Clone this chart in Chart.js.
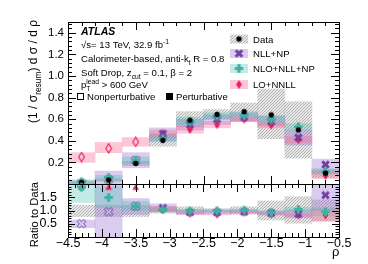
<!DOCTYPE html>
<html><head><meta charset="utf-8">
<script src="https://cdn.jsdelivr.net/npm/chart.js@4/dist/chart.umd.min.js"></script>
<style>html,body{margin:0;padding:0;background:#fff;}#wrap{position:relative;width:368px;height:264px;}canvas{position:absolute;left:0;top:0;}</style>
</head><body><div id="wrap"><canvas id="main" width="368" height="264"></canvas><canvas id="ratio" width="368" height="264"></canvas></div>
<script>
// ---------- data ----------
const binCenters = [-4.3,-3.9,-3.5,-3.1,-2.7,-2.3,-1.9,-1.5,-1.1,-0.7];
const perturbative = [false,false,false,true,true,true,true,true,true,true];
// main panel
const dataVal = [0.015,0.037,0.19,0.405,0.59,0.644,0.67,0.64,0.50,0.10];
const dataLo  = [0.005,0.025,0.17,0.35,0.53,0.60,0.58,0.42,0.24,0.06];
const dataHi  = [0.03,0.05,0.21,0.46,0.67,0.69,0.75,0.88,0.76,0.14];
const nllVal = [0.008,0.04,0.22,0.465,0.55,0.60,0.62,0.58,0.43,0.18];
const nllLo  = [0.0,0.0,0.15,0.40,0.50,0.55,0.58,0.54,0.36,0.10];
const nllHi  = [0.02,0.12,0.29,0.52,0.60,0.64,0.66,0.63,0.50,0.23];
const nloVal = [0.02,0.06,0.22,0.42,0.58,0.63,0.635,0.60,0.53,0.115];
const nloLo  = [0.0,0.03,0.19,0.39,0.55,0.60,0.62,0.57,0.50,0.09];
const nloHi  = [0.04,0.08,0.25,0.47,0.62,0.66,0.67,0.63,0.56,0.13];
const loVal  = [0.25,0.33,0.39,0.47,0.505,0.55,0.60,0.545,0.41,0.08];
const loLo   = [0.20,0.29,0.35,0.43,0.47,0.52,0.58,0.52,0.38,0.05];
const loHi   = [0.29,0.385,0.43,0.50,0.54,0.58,0.62,0.57,0.44,0.11];
// ratio panel
const rDataLo = [0.77,0.77,0.77,0.90,0.89,0.93,0.86,0.64,0.52,0.60];
const rDataHi = [1.20,1.20,1.20,1.15,1.14,1.07,1.14,1.36,1.52,1.40];
const rNllVal = [0.50,0.95,1.16,1.10,0.93,0.93,0.95,0.90,0.87,1.58];
const rNllLo  = [0.35,0.0,0.85,0.95,0.85,0.88,0.90,0.85,0.72,1.0];
const rNllHi  = [0.64,2.0,1.45,1.25,1.02,1.0,1.02,0.98,1.02,2.0];
const rNloVal = [1.88,1.49,1.16,1.04,0.98,0.99,1.01,0.93,1.04,0.95];
const rNloLo  = [1.30,1.10,1.00,0.95,0.93,0.95,0.97,0.88,0.97,0.80];
const rNloHi  = [2.0,1.90,1.35,1.10,1.05,1.03,1.05,0.98,1.13,1.10];
const rLoVal  = [null,null,null,1.04,0.89,0.86,0.93,0.86,0.83,0.83];
const rLoLo   = [null,null,null,0.98,0.85,0.83,0.90,0.82,0.78,0.60];
const rLoHi   = [null,null,null,1.15,0.93,0.90,0.96,0.90,0.90,1.05];
const rLoOffScale = [1.88,1.88,1.88,null,null,null,null,null,null,null];
// ticks
const mainYTicks = [0.2,0.4,0.6,0.8,1.0,1.2,1.4];
const ratioYTicks = [0.5,1,1.5];
const xTickLabels = [-4.5,-4,-3.5,-3,-2.5,-2,-1.5,-1,-0.5];
const seriesNames = ['Data','NLL+NP','NLO+NLL+NP','LO+NNLL'];

// ---------- styles ----------
const PURPLE='#6f3fa6', TEAL='#3fb0a2', PINK='#ec1f5a';
const PURPLE_BAND='rgba(150,110,205,0.35)', TEAL_BAND='rgba(70,190,178,0.32)', PINK_BAND='rgba(246,110,150,0.38)';
const FONT='"Liberation Sans", Arial, sans-serif';

function mk(w,h,fn){const c=document.createElement('canvas');c.width=w;c.height=h;const g=c.getContext('2d');fn(g,w/2,h/2);return c;}
function crossPoly(g,cx,cy,L,a,rot){
  const pts=[[-a,-L],[a,-L],[a,-a],[L,-a],[L,a],[a,a],[a,L],[-a,L],[-a,a],[-L,a],[-L,-a],[-a,-a]];
  const c=Math.cos(rot),s=Math.sin(rot);g.beginPath();
  pts.forEach((p,i)=>{const x=cx+p[0]*c-p[1]*s,y=cy+p[0]*s+p[1]*c;i?g.lineTo(x,y):g.moveTo(x,y);});g.closePath();
}
const imgX = (open)=>mk(11,11,(g,cx,cy)=>{crossPoly(g,cx,cy,4.6,1.5,Math.PI/4);if(open){g.strokeStyle=PURPLE;g.lineWidth=1;g.stroke();}else{g.fillStyle=PURPLE;g.fill();}});
const imgPlus = mk(11,11,(g,cx,cy)=>{crossPoly(g,cx,cy,4.2,1.6,0);g.fillStyle=TEAL;g.fill();});
const imgDia = (open)=>mk(9,11,(g,cx,cy)=>{g.beginPath();g.moveTo(cx,cy-4.6);g.lineTo(cx+2.9,cy);g.lineTo(cx,cy+4.6);g.lineTo(cx-2.9,cy);g.closePath();if(open){g.strokeStyle=PINK;g.lineWidth=1.1;g.stroke();}else{g.fillStyle=PINK;g.fill();}});
const imgDot = mk(7,7,(g,cx,cy)=>{g.beginPath();g.arc(cx,cy,2.7,0,7);g.fillStyle='#000';g.fill();});
const imgTri = mk(9,9,(g,cx,cy)=>{g.beginPath();g.moveTo(cx,cy-3.6);g.lineTo(cx+3.3,cy+2.8);g.lineTo(cx-3.3,cy+2.8);g.closePath();g.fillStyle=PINK;g.fill();});
const X_OPEN=imgX(true), X_FILL=imgX(false), D_OPEN=imgDia(true), D_FILL=imgDia(false);

function hatchPattern(){
  const c=document.createElement('canvas');c.width=3;c.height=3;const g=c.getContext('2d');
  const id=g.createImageData(3,3);
  for(let y=0;y<3;y++)for(let x=0;x<3;x++){const i=(y*3+x)*4;const dark=((x+y)%3===0);
    id.data[i]=dark?145:210;id.data[i+1]=dark?145:210;id.data[i+2]=dark?145:210;id.data[i+3]=dark?180:130;}
  g.putImageData(id,0,0);
  return document.createElement('canvas').getContext('2d').createPattern(c,'repeat');
}
const HATCH=hatchPattern();

function band(lo,hi,color,order){
  return {type:'bar',data:binCenters.map((x,i)=>({x:x,y:lo[i]==null?null:[lo[i],hi[i]]})),backgroundColor:color,borderWidth:0,
    barPercentage:1,categoryPercentage:1,grouped:false,order:order};
}
function markers(vals,style,order){
  return {type:'line',showLine:false,data:binCenters.map((x,i)=>({x:x,y:vals[i]})),
    pointStyle:style,pointRadius:4,order:order,clip:false};
}
const nllStyle = ctx=>perturbative[ctx.dataIndex]?X_FILL:X_OPEN;
const loStyle = ctx=>perturbative[ctx.dataIndex]?D_FILL:D_OPEN;
const fmt = v=>String(v).replace('-','\u2212');

function frameTicks(cfg){
  return {id:'frameTicks',afterDatasetsDraw(chart){
    const {ctx,chartArea:a,scales:{x,y}}=chart;ctx.save();ctx.strokeStyle='#000';ctx.lineWidth=1;
    ctx.beginPath();
    const eps=1e-6;
    for(let v=cfg.xMin;v<=cfg.xMax+eps;v+=cfg.xMinor){
      const px=Math.round(x.getPixelForValue(v))+0.5;
      const maj=Math.abs(((v-cfg.xMajorBase)/cfg.xMajor)-Math.round((v-cfg.xMajorBase)/cfg.xMajor))<1e-4;
      const L=maj?cfg.xMajLen:cfg.xMinLen;
      ctx.moveTo(px,a.bottom);ctx.lineTo(px,a.bottom-L);
      if(cfg.topTicks){ctx.moveTo(px,a.top);ctx.lineTo(px,a.top+L);}
    }
    for(let v=cfg.yMin;v<=cfg.yMax+eps;v+=cfg.yMinor){
      const py=Math.round(y.getPixelForValue(v))+0.5;
      const maj=Math.abs((v/cfg.yMajor)-Math.round(v/cfg.yMajor))<1e-4;
      const L=maj?cfg.yMajLen:cfg.yMinLen;
      ctx.moveTo(a.left,py);ctx.lineTo(a.left+L,py);
      ctx.moveTo(a.right,py);ctx.lineTo(a.right-L,py);
    }
    ctx.stroke();
    ctx.strokeRect(Math.round(a.left)+0.5,Math.round(a.top)+0.5,Math.round(a.right-a.left),Math.round(a.bottom-a.top));
    ctx.restore();
  }};
}

function richWidth(ctx,parts,size){
  let w=0;for(const p of parts){
    if(p.m==='ss'){ctx.font=`${size*0.7}px ${FONT}`;w+=Math.max(ctx.measureText(p.t).width,ctx.measureText(p.t2).width);}
    else{ctx.font=`${p.m==='n'?size:size*0.7}px ${FONT}`;w+=ctx.measureText(p.t).width;}
  }return w;
}
function rich(ctx,x,y,parts,size){
  let cx=x;
  for(const p of parts){
    if(p.m==='n'){ctx.font=`${size}px ${FONT}`;ctx.fillText(p.t,cx,y);cx+=ctx.measureText(p.t).width;}
    else if(p.m==='sub'){ctx.font=`${size*0.7}px ${FONT}`;ctx.fillText(p.t,cx,y+size*0.3);cx+=ctx.measureText(p.t).width;}
    else if(p.m==='sup'){ctx.font=`${size*0.7}px ${FONT}`;ctx.fillText(p.t,cx,y-size*0.42);cx+=ctx.measureText(p.t).width;}
    else if(p.m==='ss'){ctx.font=`${size*0.7}px ${FONT}`;ctx.fillText(p.t,cx,y+size*0.3);ctx.fillText(p.t2,cx,y-size*0.45);
      cx+=Math.max(ctx.measureText(p.t).width,ctx.measureText(p.t2).width);}
  }
}

const annotations={id:'annot',afterDraw(chart){
  const ctx=chart.ctx;ctx.save();ctx.fillStyle='#000';ctx.textBaseline='alphabetic';ctx.textAlign='left';
  const S=9.6;
  ctx.font=`bold italic 10.5px ${FONT}`;ctx.fillText('ATLAS',81,35);
  rich(ctx,81,48,[{m:'n',t:'\u221As= 13 TeV, 32.9 fb'},{m:'sup',t:'-1'}],S);
  rich(ctx,81,62,[{m:'n',t:'Calorimeter-based, anti-k'},{m:'sub',t:'t'},{m:'n',t:' R = 0.8'}],S);
  rich(ctx,81,76,[{m:'n',t:'Soft Drop, z'},{m:'sub',t:'cut'},{m:'n',t:' = 0.1, \u03B2 = 2'}],S);
  rich(ctx,81,88,[{m:'n',t:'p'},{m:'ss',t:'T',t2:'lead'},{m:'n',t:' > 600 GeV'}],S);
  ctx.strokeStyle='#000';ctx.lineWidth=1;ctx.strokeRect(77.5,93.5,6,6);
  ctx.font=`${S}px ${FONT}`;ctx.fillText('Nonperturbative',87,100);
  ctx.fillRect(166,93,7,7);ctx.fillText('Perturbative',176,100);
  const rows=[[39,HATCH,imgDot],[53.5,PURPLE_BAND,X_FILL],[68.5,TEAL_BAND,imgPlus],[84.5,PINK_BAND,D_FILL]];
  rows.forEach((r,i)=>{const [cy,fill,img]=r;
    ctx.fillStyle='#fff';ctx.fillRect(230,cy-4.5,18,9);
    ctx.fillStyle=fill;ctx.fillRect(230,cy-4.5,18,9);
    ctx.drawImage(img,239-img.width/2,cy-img.height/2);
    ctx.fillStyle='#000';ctx.font=`${S}px ${FONT}`;ctx.fillText(seriesNames[i],253,cy+3.5);
  });
  const tparts=[{m:'n',t:'(1 / \u03C3'},{m:'sub',t:'resum'},{m:'n',t:') d \u03C3 / d \u03C1'}];
  const TS=12;const tw=richWidth(ctx,tparts,TS);
  ctx.save();ctx.translate(37,20+tw);ctx.rotate(-Math.PI/2);rich(ctx,0,0,tparts,TS);ctx.restore();
  const RS=11.2;ctx.font=`${RS}px ${FONT}`;const rw=ctx.measureText('Ratio to Data').width;
  ctx.save();ctx.translate(38,182+rw);ctx.rotate(-Math.PI/2);ctx.fillText('Ratio to Data',0,0);ctx.restore();
  ctx.font=`13px ${FONT}`;ctx.fillText('\u03C1',332,256);
  ctx.restore();
}};

const common={responsive:false,animation:false,events:[],devicePixelRatio:1,
  plugins:{legend:{display:false},tooltip:{enabled:false}}};

new Chart(document.getElementById('main'),{
  type:'bar',
  data:{datasets:[
    band(dataLo,dataHi,HATCH,10),band(nllLo,nllHi,PURPLE_BAND,9),band(nloLo,nloHi,TEAL_BAND,8),band(loLo,loHi,PINK_BAND,7),
    markers(loVal,loStyle,4),markers(nllVal,nllStyle,3),markers(nloVal,imgPlus,2),markers(dataVal,imgDot,1)
  ]},
  options:{...common,layout:{padding:{left:0,right:29,top:22,bottom:80}},
    scales:{
      x:{type:'linear',min:-4.5,max:-0.5,offset:false,display:false},
      y:{type:'linear',min:0,max:1.5,grid:{display:false,drawTicks:false},border:{display:false},
        ticks:{font:{family:FONT,size:11.5},color:'#000',padding:4},
        afterBuildTicks(s){s.ticks=mainYTicks.map(v=>({value:v}));},
        afterFit(s){s.width=68;}}
    }},
  plugins:[frameTicks({xMin:-4.5,xMax:-0.5,xMinor:0.2,xMajor:1,xMajorBase:-4.5,xMajLen:8,xMinLen:4,topTicks:true,
    yMin:0,yMax:1.5,yMinor:0.04,yMajor:0.2,yMajLen:8,yMinLen:4}),annotations]
});

new Chart(document.getElementById('ratio'),{
  type:'bar',
  data:{datasets:[
    band(rDataLo,rDataHi,HATCH,10),band(rNllLo,rNllHi,PURPLE_BAND,9),band(rNloLo,rNloHi,TEAL_BAND,8),band(rLoLo,rLoHi,PINK_BAND,7),
    markers(rLoVal,loStyle,4),markers(rLoOffScale,imgTri,4),markers(rNllVal,nllStyle,3),markers(rNloVal,imgPlus,2)
  ]},
  options:{...common,layout:{padding:{left:0,right:29,top:184,bottom:0}},
    scales:{
      x:{type:'linear',min:-4.5,max:-0.5,offset:false,grid:{display:false,drawTicks:false},border:{display:false},
        ticks:{font:{family:FONT,size:12.5},color:'#000',padding:-1,maxRotation:0,callback:fmt},
        afterBuildTicks(s){s.ticks=xTickLabels.map(v=>({value:v}));},
        afterFit(s){s.height=27;}},
      y:{type:'linear',min:0,max:2,grid:{display:false,drawTicks:false},border:{display:false},
        ticks:{font:{family:FONT,size:12.5},color:'#000',padding:11},
        afterBuildTicks(s){s.ticks=ratioYTicks.map(v=>({value:v}));},
        afterFit(s){s.width=68;}}
    }},
  plugins:[frameTicks({xMin:-4.5,xMax:-0.5,xMinor:0.1,xMajor:0.5,xMajorBase:-4.5,xMajLen:8,xMinLen:4,topTicks:true,
    yMin:0,yMax:2,yMinor:0.1,yMajor:0.5,yMajLen:7,yMinLen:3.5})]
});
</script></body></html>
